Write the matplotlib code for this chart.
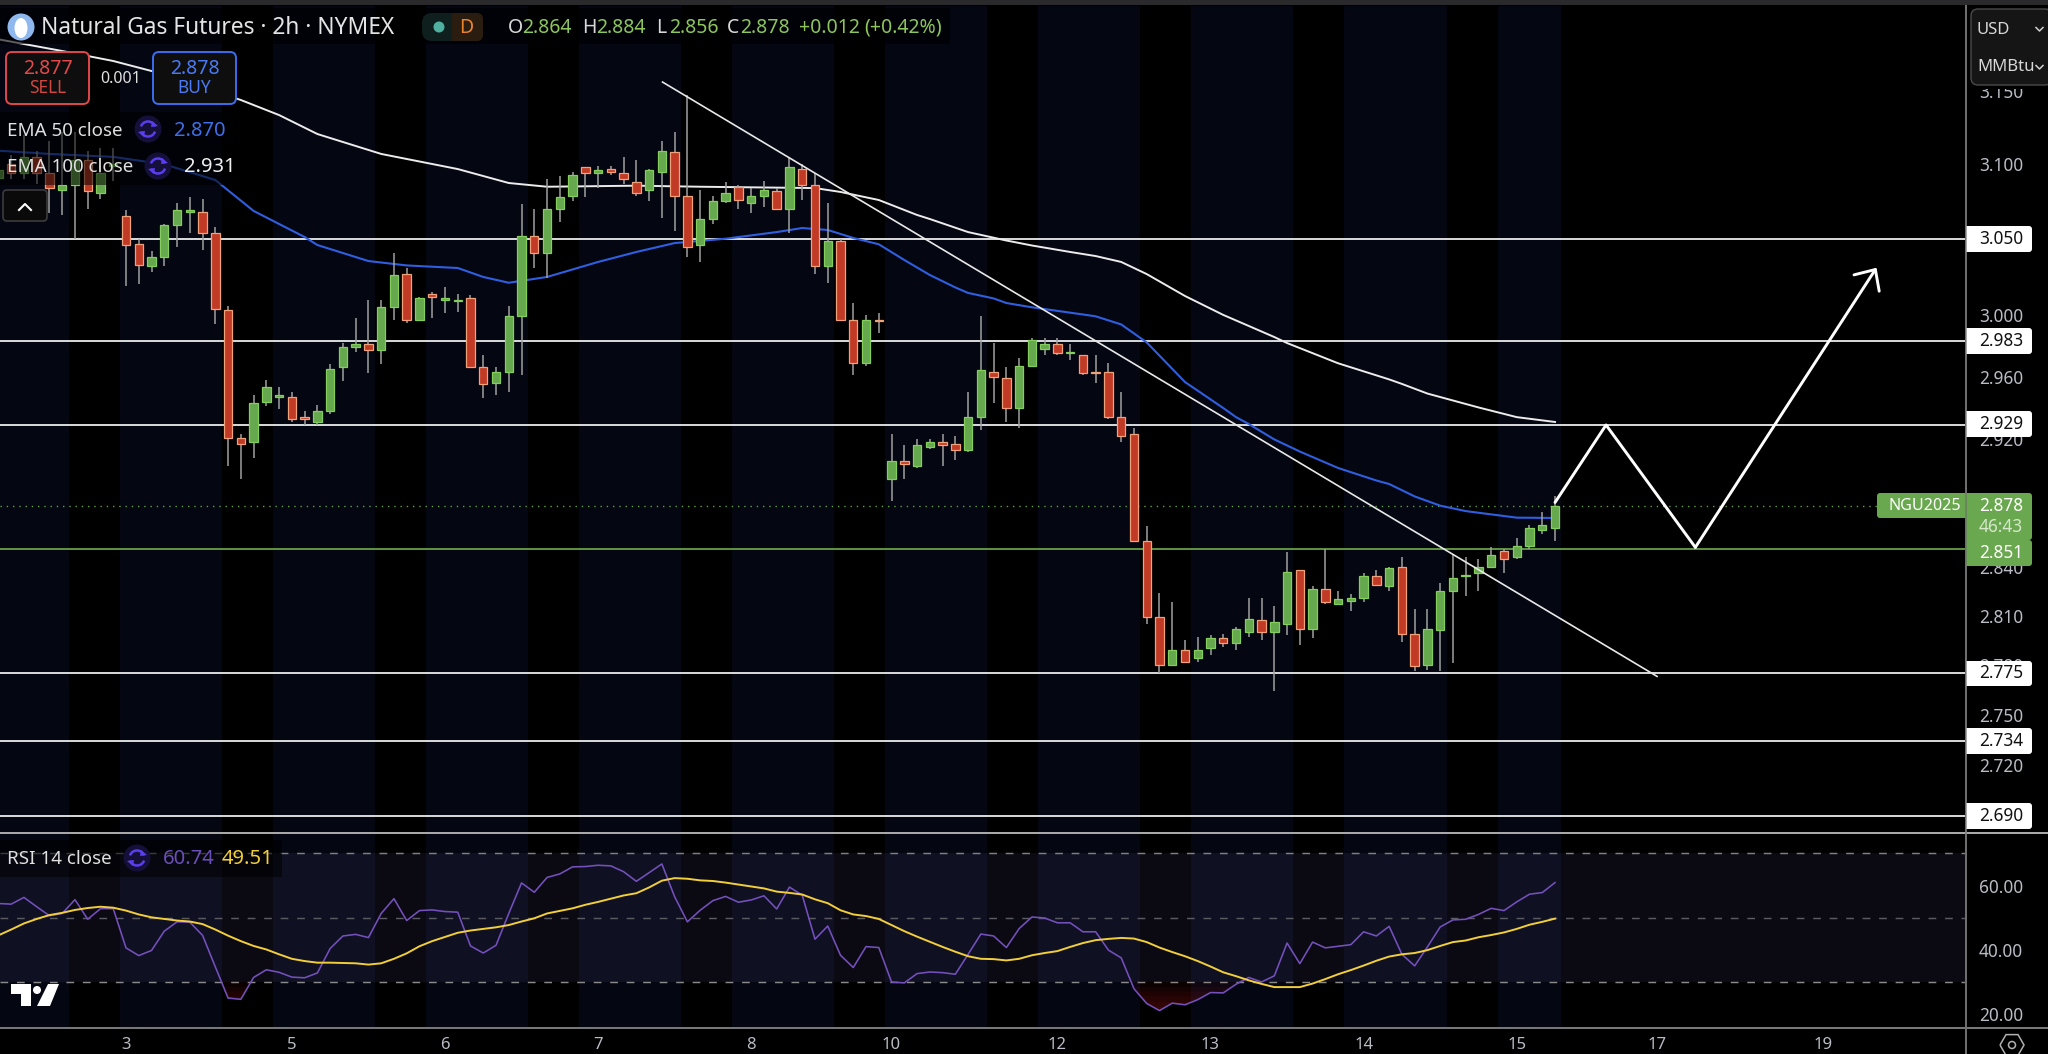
import numpy as np
import matplotlib
matplotlib.use("Agg")
import matplotlib.pyplot as plt
from matplotlib.patches import FancyBboxPatch, Circle, Rectangle, Arc, Polygon, RegularPolygon, Ellipse
from matplotlib.ticker import NullLocator, NullFormatter

plt.rcParams['font.family'] = ['Noto Sans', 'DejaVu Sans']

# ---------------- data (2h bars, bar -10 .. 112) ----------------
first_bar = -10
open_ = [3.091,3.100,3.094,3.105,3.094,3.083,3.086,3.103,3.081,3.099,
 3.065,3.047,3.032,3.038,3.059,3.068,3.068,3.054,3.003,2.921,
 2.918,2.944,2.947,2.947,2.934,2.931,2.938,2.966,2.979,2.981,
 2.977,3.005,3.027,2.997,3.014,3.010,3.009,3.011,2.966,2.956,
 2.963,2.999,3.052,3.041,3.070,3.079,3.098,3.094,3.097,3.094,
 3.088,3.083,3.095,3.108,3.079,3.046,3.063,3.075,3.085,3.074,
 3.079,3.082,3.070,3.097,3.086,3.032,3.049,2.997,2.969,2.997,
 2.895,2.906,2.903,2.915,2.918,2.917,2.913,2.934,2.963,2.959,
 2.940,2.967,2.978,2.981,2.975,2.974,2.963,2.963,2.934,2.923,
 2.856,2.809,2.780,2.789,2.784,2.790,2.796,2.793,2.800,2.807,
 2.800,2.805,2.838,2.802,2.826,2.817,2.819,2.821,2.834,2.828,
 2.840,2.799,2.780,2.801,2.825,2.834,2.836,2.840,2.850,2.846,
 2.853,2.863,2.864]
high = [3.099,3.106,3.120,3.109,3.116,3.122,3.122,3.109,3.111,3.111,
 3.069,3.050,3.042,3.060,3.074,3.078,3.077,3.058,3.006,2.923,
 2.948,2.958,2.953,2.950,2.938,2.942,2.968,2.982,2.998,3.010,
 3.010,3.041,3.031,3.012,3.015,3.018,3.014,3.013,2.974,2.966,
 3.006,3.073,3.070,3.090,3.092,3.095,3.098,3.099,3.099,3.105,
 3.103,3.097,3.116,3.122,3.147,3.083,3.079,3.088,3.086,3.084,
 3.089,3.084,3.105,3.100,3.094,3.074,3.050,3.008,3.000,3.001,
 2.923,2.916,2.920,2.920,2.923,2.922,2.950,2.999,2.982,2.966,
 2.972,2.985,2.985,2.985,2.981,2.974,2.974,2.969,2.950,2.927,
 2.865,2.824,2.818,2.795,2.797,2.798,2.799,2.803,2.821,2.821,
 2.816,2.849,2.838,2.828,2.851,2.825,2.823,2.836,2.838,2.840,
 2.846,2.814,2.814,2.830,2.848,2.846,2.845,2.852,2.851,2.858,
 2.866,2.874,2.884]
low = [3.086,3.090,3.090,3.087,3.067,3.066,3.050,3.070,3.077,3.089,
 3.019,3.020,3.028,3.032,3.045,3.054,3.043,2.994,2.903,2.895,
 2.908,2.941,2.939,2.931,2.929,2.929,2.936,2.957,2.976,2.962,
 2.968,2.997,2.995,2.997,2.998,3.001,3.002,2.966,2.946,2.948,
 2.950,2.961,3.031,3.024,3.061,3.075,3.078,3.084,3.093,3.087,
 3.079,3.075,3.064,3.055,3.038,3.035,3.060,3.074,3.070,3.067,
 3.071,3.070,3.054,3.076,3.027,3.021,2.996,2.961,2.967,2.988,
 2.881,2.895,2.902,2.914,2.903,2.907,2.912,2.926,2.943,2.931,
 2.927,2.966,2.974,2.974,2.971,2.961,2.956,2.933,2.918,2.856,
 2.805,2.775,2.780,2.781,2.782,2.786,2.791,2.789,2.797,2.795,
 2.764,2.798,2.792,2.796,2.817,2.817,2.813,2.818,2.829,2.825,
 2.794,2.776,2.777,2.776,2.781,2.822,2.825,2.839,2.836,2.845,
 2.851,2.860,2.856]
close = [3.096,3.094,3.105,3.094,3.084,3.086,3.103,3.082,3.094,3.100,
 3.046,3.033,3.038,3.059,3.069,3.069,3.054,3.004,2.921,2.917,
 2.943,2.953,2.948,2.933,2.933,2.938,2.965,2.979,2.981,2.977,
 3.005,3.026,2.997,3.011,3.012,3.011,3.010,2.966,2.955,2.963,
 2.999,3.052,3.041,3.070,3.078,3.093,3.094,3.096,3.095,3.090,
 3.081,3.096,3.109,3.079,3.045,3.063,3.075,3.081,3.076,3.079,
 3.083,3.070,3.098,3.086,3.032,3.049,2.997,2.969,2.997,2.996,
 2.906,2.904,2.916,2.918,2.916,2.913,2.934,2.964,2.960,2.940,
 2.967,2.984,2.981,2.975,2.976,2.962,2.962,2.934,2.922,2.856,
 2.809,2.780,2.789,2.782,2.789,2.796,2.793,2.802,2.808,2.800,
 2.806,2.837,2.802,2.826,2.818,2.820,2.821,2.834,2.829,2.839,
 2.799,2.779,2.802,2.825,2.833,2.835,2.840,2.847,2.845,2.853,
 2.864,2.866,2.878]

ema50_bars = [-10,-6,-1,3,7,10,14,15,19,22,26,28,30,33,37,40,43,47,51,53,55,57,59,61,63,65,66,68,69,71,75,76,78,80,83,86,87,88,90,92,95,98,99,101,103,105,109,112]
ema50_vals = [3.1092,3.107,3.105,3.100,3.0894,3.0687,3.0513,3.046,3.0354,3.0325,3.0308,3.0249,3.0211,3.0249,3.0348,3.0414,3.0473,3.0502,3.0546,3.0573,3.056,3.0507,3.0465,3.0361,3.0262,3.018,3.0144,3.0108,3.0078,3.005,3.0003,2.9991,2.9938,2.9821,2.9565,2.9398,2.934,2.9296,2.9198,2.9121,2.9017,2.8938,2.8916,2.8838,2.878,2.8746,2.8705,2.8703]
ema100_bars = [-10,-5,-1,2,9,12,15,20,26,30,33,40,45,54,56,59,62,63,66,69,71,74,76,78,80,83,86,88,90,91,95,99,100,102,106,109,112]
ema100_vals = [3.1855,3.1774,3.1705,3.1636,3.1437,3.1334,3.1205,3.107,3.0968,3.0874,3.0849,3.0856,3.0849,3.084,3.0814,3.076,3.066,3.0633,3.0546,3.049,3.0457,3.0414,3.0387,3.0348,3.0268,3.0124,3.0,2.9928,2.9856,2.9817,2.9686,2.9582,2.9553,2.9491,2.9402,2.934,2.9309]

rsi = [54.4,54.2,56.3,53.4,50.6,51.3,55.6,49.5,52.8,52.8,
 40.6,38.2,39.8,45.8,48.7,48.6,44.5,34.7,25.0,24.6,
 31.4,33.8,33.0,31.5,31.3,32.8,40.4,44.3,44.8,43.8,
 51.3,55.9,49.1,52.2,52.4,51.9,51.7,41.2,39.0,41.4,
 51.3,60.8,57.9,62.5,63.6,65.8,65.9,66.3,66.1,64.3,
 61.3,64.0,66.7,56.5,48.7,52.3,55.3,56.6,54.8,55.5,
 56.8,52.7,59.5,57.0,43.3,47.4,38.3,34.5,41.0,40.7,
 30.0,29.7,32.6,33.1,32.9,32.4,38.6,44.9,44.3,40.7,
 46.6,50.2,49.9,48.4,48.4,45.6,45.6,39.9,37.5,27.9,
 23.3,21.1,23.4,22.9,24.5,26.7,26.6,29.3,31.4,30.0,
 31.9,42.1,35.7,42.4,40.6,41.1,41.6,45.6,44.3,47.3,
 38.6,35.0,40.9,47.1,49.3,49.5,51.0,52.9,52.2,54.9,
 57.3,57.8,60.9]
rsi_ma = [44.5,46.3,48.2,49.6,50.8,51.5,52.4,53.0,53.4,53.1,
 52.2,51.0,50.1,49.6,49.1,48.8,48.0,46.3,44.4,42.7,
 41.2,40.1,38.6,37.2,36.5,36.0,36.0,35.9,35.8,35.4,
 35.8,37.2,38.9,41.1,42.7,44.0,45.3,46.0,46.5,47.0,
 47.7,48.8,49.8,51.3,52.1,52.9,54.0,54.9,55.9,56.9,
 57.6,59.4,61.5,62.3,62.1,61.6,61.4,60.9,60.3,59.7,
 59.1,58.1,57.7,57.2,55.7,54.5,52.3,51.0,50.5,49.6,
 47.7,45.8,44.1,42.5,40.9,39.4,38.0,37.2,37.1,36.7,
 37.2,38.3,39.0,39.6,40.9,42.1,43.0,43.4,43.7,43.5,
 42.4,40.7,39.3,38.0,36.5,34.8,33.0,31.8,30.5,29.4,
 28.4,28.4,28.4,29.5,30.9,32.4,33.7,35.1,36.6,37.9,
 38.6,39.0,39.9,41.2,42.4,42.9,43.9,44.6,45.4,46.5,
 47.8,48.7,49.7]

levels_white = [3.050, 2.983, 2.929, 2.775, 2.734, 2.690]
level_green = 2.851
last_price = 2.878
trend_bars = [42.05, 120.0]
trend_vals = [3.156, 2.773]
path_bars = [112.0, 116.0, 123.0]
path_vals = [2.880, 2.929, 2.852]
arrow_tip = (137.2, 3.031)

price_ticks = [3.150, 3.100, 3.000, 2.960, 2.920, 2.840, 2.810, 2.780, 2.750, 2.720]
rsi_ticks = [60, 40, 20]
date_bars = [0, 13, 25, 37, 49, 60, 73, 85, 97, 109, 120, 133]
date_labels = ['3', '5', '6', '7', '8', '10', '12', '13', '14', '15', '17', '19']

# ---------------- colours ----------------
NAVY = '#040612'
UP, UP_E = '#66a84e', '#84cf5c'
DN, DN_E = '#c13a25', '#f0a27a'
WICK = '#a0a0a0'
TXT = '#b9bcc4'
GREEN_TAG = '#6aa84f'

W, H = 2048, 1054
fig = plt.figure(figsize=(W / 100, H / 100), dpi=100, facecolor='black')
X0, X1 = 0, 1965
ax = fig.add_axes([X0 / W, (H - 832) / H, (X1 - X0) / W, (832 - 6) / H])
ax2 = fig.add_axes([X0 / W, (H - 1028) / H, (X1 - X0) / W, (1028 - 833) / H])

bar_px = 12.759
xlim = (-126 / bar_px, (X1 - 126) / bar_px)
bars = np.arange(first_bar, first_bar + len(close))

for a in (ax, ax2):
    a.set_facecolor(NAVY)
    a.set_xlim(*xlim)
    for k in range(0, 10):
        a.axvspan(-4.5 + 12 * k, -0.5 + 12 * k, color='black', lw=0, zorder=0)
    a.axvspan(112.5, xlim[1], color='black', lw=0, zorder=0)
    for s in a.spines.values():
        s.set_visible(False)

# ---------------- price pane ----------------
ax.set_yscale('log')
ax.set_ylim(3.05 * np.exp(-593 / 4594), 3.05 * np.exp(233 / 4594))
ax.yaxis.tick_right()
ax.yaxis.set_minor_locator(NullLocator())
ax.yaxis.set_minor_formatter(NullFormatter())
ax.set_yticks(price_ticks, [f'{t:.3f}' for t in price_ticks])
ax.tick_params(axis='y', length=0, pad=10, labelsize=12.4, labelcolor=TXT)
ax.set_xticks([])

for lv in levels_white:
    ax.axhline(lv, color='white', lw=1.2, zorder=2)
ax.axhline(level_green, color='#6fae4f', lw=1.2, zorder=2)
ax.axhline(last_price, color='#5fa043', lw=1.0, ls=(0, (1, 3.5)), zorder=2)

ax.plot(ema100_bars, ema100_vals, color='#ececec', lw=1.4, zorder=2)
ax.plot(ema50_bars, ema50_vals, color='#2f5fe0', lw=1.5, zorder=2)
ax.plot(trend_bars, trend_vals, color='#e8e8e8', lw=1.2, zorder=4)

o, h, l, c = map(np.array, (open_, high, low, close))
up = c >= o
ax.vlines(bars, l, h, color=WICK, lw=1.1, zorder=3)
ax.bar(bars[up], c[up] - o[up], bottom=o[up], width=0.66, color=UP, edgecolor=UP_E, lw=0.9, zorder=3.2)
ax.bar(bars[~up], o[~up] - c[~up], bottom=c[~up], width=0.66, color=DN, edgecolor=DN_E, lw=0.9, zorder=3.2)

ax.plot(path_bars, path_vals, color='white', lw=2.1, zorder=5, solid_capstyle='round')
ax.annotate('', xy=arrow_tip, xytext=(path_bars[-1], path_vals[-1]),
            arrowprops=dict(arrowstyle='->,head_length=1.16,head_width=1.08', mutation_scale=10, color='white',
                            lw=2.1, shrinkA=0, shrinkB=0, capstyle='round'), zorder=5)

# ---------------- RSI pane ----------------
ax2.set_ylim(15.68, 76.33)
ax2.yaxis.tick_right()
ax2.axhspan(30, 70, color=(130 / 255, 120 / 255, 200 / 255), alpha=0.09, lw=0, zorder=1)
for v, col in ((70, '#808080'), (50, '#5a5a62'), (30, '#8a8a8a')):
    ax2.axhline(v, color=col, lw=1.05, ls=(0, (5.3, 6)), zorder=2)
r = np.array(rsi)
for t_ in (30, 28.5, 27, 25.5, 24, 22.5):
    ax2.fill_between(bars, r, t_, where=r < t_, interpolate=True, color='#c02020', alpha=0.06, lw=0, zorder=2)
ax2.plot(bars, rsi, color='#7450bd', lw=1.15, zorder=3)
ax2.plot(bars, rsi_ma, color='#f2cf3a', lw=1.4, zorder=4)
ax2.set_yticks(rsi_ticks, [f'{v:.2f}' for v in rsi_ticks])
ax2.set_xticks(date_bars, date_labels)
ax2.tick_params(axis='y', length=0, pad=10, labelsize=12.4, labelcolor=TXT)
ax2.tick_params(axis='x', length=0, pad=6.5, labelsize=12, labelcolor=TXT)

# ---------------- interface overlay in pixels ----------------
ov = fig.add_axes([0, 0, 1, 1], zorder=10)
ov.set_xlim(0, W)
ov.set_ylim(H, 0)
ov.axis('off')
ov.patch.set_visible(False)


def txt(x, y, s, color='#d8d8d8', size=14, ha='left', va='center', **kw):
    ov.text(x, y, s, color=color, fontsize=size, ha=ha, va=va, **kw)


def rbox(x0, y0, x1, y1, fc, ec='none', lw=1.0, r=4, **kw):
    ov.add_patch(FancyBboxPatch((x0 + r, y0 + r), x1 - x0 - 2 * r, y1 - y0 - 2 * r,
                                boxstyle=f'round,pad={r},rounding_size={r}', fc=fc, ec=ec, lw=lw, **kw))


def sync_icon(x, y):
    ov.add_patch(Circle((x, y), 13.5, fc='#15103a', ec='none'))
    ov.add_patch(Arc((x, y), 15, 15, theta1=200, theta2=340, color='#5b3df0', lw=1.8))
    ov.add_patch(Arc((x, y), 15, 15, theta1=20, theta2=160, color='#5b3df0', lw=1.8))
    ov.add_patch(Polygon([[x + 4, y - 8], [x + 10, y - 3], [x + 3, y - 2]], fc='#5b3df0', ec='none'))
    ov.add_patch(Polygon([[x - 4, y + 8], [x - 10, y + 3], [x - 3, y + 2]], fc='#5b3df0', ec='none'))


# frame lines
ov.add_patch(Rectangle((0, 0), W, 5, fc='#2a2a2c', ec='none'))
ov.add_patch(Rectangle((1965, 5), 2, H - 5, fc='#6e6e6e', ec='none'))
ov.add_patch(Rectangle((0, 832), W, 2, fc='#a8a8a8', ec='none'))
ov.add_patch(Rectangle((0, 1027), W, 2, fc='#777777', ec='none'))

# legend dimming
ov.add_patch(Rectangle((0, 8), 950, 36, fc='black', alpha=0.6, ec='none'))
ov.add_patch(Rectangle((0, 112), 240, 73, fc='black', alpha=0.55, ec='none'))
ov.add_patch(Rectangle((0, 840), 282, 37, fc='black', alpha=0.55, ec='none'))

# title row
ov.add_patch(Circle((21, 27), 13.5, fc='#8fb8ee', ec='none'))
ov.add_patch(Ellipse((21, 28), 13, 20, fc='white', ec='none'))
txt(41, 28.5, 'Natural Gas Futures · 2h · NYMEX', color='#e4e4e4', size=16.4)
rbox(422, 13, 483, 41, '#0f1f1d', r=10)
ov.add_patch(Rectangle((452, 13), 22, 28, fc='#2a1c0e', ec='none'))
ov.add_patch(FancyBboxPatch((462, 19), 15, 16, boxstyle='round,pad=6,rounding_size=6', fc='#2a1c0e', ec='none'))
ov.add_patch(Circle((439, 27), 5.5, fc='#4fb0a0', ec='none'))
txt(466, 28, 'D', color='#e8842c', size=14, ha='center')
VAL = '#8cc65c'
for xp, lab in ((508, 'O'), (582, 'H'), (656, 'L'), (727, 'C')):
    txt(xp, 28, lab, color='#d8d8d8', size=14)
for xp, s in ((522, '2.864'), (596, '2.884'), (669, '2.856'), (740, '2.878'), (799, '+0.012'), (864, '(+0.42%)')):
    txt(xp, 28, s, color=VAL, size=14)

# sell / buy
rbox(6, 52, 89, 104, '#0e0e0e', ec='#e0484a', lw=1.4, r=6)
txt(47.5, 69.5, '2.877', color='#e5484a', size=14, ha='center')
txt(47.5, 88, 'SELL', color='#d24640', size=12.5, ha='center')
rbox(153, 52, 236, 104, '#0e0e0e', ec='#3b6ef0', lw=1.4, r=6)
txt(194.5, 69.5, '2.878', color='#4a7af5', size=14, ha='center')
txt(194.5, 88, 'BUY', color='#4a7af5', size=12.5, ha='center')
txt(120.5, 79, '0.001', color='#e0e0e0', size=11.5, ha='center')

# indicators
txt(7, 130.5, 'EMA 50 close', color='#e0e0e0', size=13.5)
sync_icon(148, 129)
txt(174, 130.5, '2.870', color='#3e6fe8', size=14.5)
txt(7, 167.5, 'EMA 100 close', color='#e0e0e0', size=13.5)
sync_icon(158, 166)
txt(184, 167.5, '2.931', color='#f0f0f0', size=14.5)

rbox(3, 190, 47, 221, '#0a0a0a', ec='#3c3c3c', lw=1.2, r=4)
ov.plot([19, 25, 31], [210, 204, 210], color='white', lw=1.5)

# RSI legend
txt(7, 859.5, 'RSI 14 close', color='#e0e0e0', size=13.5)
sync_icon(137, 858)
txt(163, 859.5, '60.74', color='#6a4fb8', size=14.5)
txt(222, 859.5, '49.51', color='#f2cf3a', size=14.5)

# logo
ov.add_patch(Polygon([[11, 984], [31, 984], [31, 1006], [21, 1006], [21, 994], [11, 994]], fc='white', ec='none'))
ov.add_patch(Circle((37, 990), 4, fc='white', ec='none'))
ov.add_patch(Polygon([[48, 984], [59, 984], [50, 1006], [37, 1006]], fc='white', ec='none'))

# unit box
ov.add_patch(Rectangle((1967, 5), W - 1967, 84, fc='black', ec='none'))
rbox(1971, 9, 2052, 85, '#151515', ec='#4a4a4a', lw=1.0, r=7)
txt(1977, 30, 'USD', color='#d8d8d8', size=12)
txt(1977, 67, 'MMBtu', color='#d8d8d8', size=12)
for yy in (29, 67):
    ov.plot([2036, 2039.5, 2043], [yy - 1.5, yy + 2, yy - 1.5], color='#d0d0d0', lw=1.1)

# price tags
for lab, y0, y1 in (('3.050', 226, 252), ('2.983', 328, 354), ('2.929', 411, 437),
                    ('2.775', 661, 686), ('2.734', 728, 754), ('2.690', 803, 829)):
    ov.add_patch(Rectangle((1966, y0), 30, y1 - y0, fc='white', ec='none'))
    rbox(1970, y0, 2032, y1, 'white', r=3)
    txt(1979, (y0 + y1) / 2, lab, color='#111111', size=12.4)

rbox(1877, 493, 1970, 518, GREEN_TAG, r=3)
txt(1888, 505.5, 'NGU2025', color='white', size=11.6)
ov.add_patch(Rectangle((1966, 493), 30, 47, fc=GREEN_TAG, ec='none'))
rbox(1970, 493, 2032, 540, GREEN_TAG, r=3)
txt(1979, 506, '2.878', color='white', size=12.4)
txt(1979, 527, '46:43', color='#d5e8cb', size=12.4)
ov.add_patch(Rectangle((1966, 540), 30, 26, fc=GREEN_TAG, ec='none'))
rbox(1970, 540, 2032, 566, GREEN_TAG, r=3)
txt(1979, 553, '2.851', color='white', size=12.4)
ov.add_patch(Rectangle((1965, 5), 2, H - 5, fc='#6e6e6e', alpha=0.6, ec='none'))

# settings glyph
ov.add_patch(RegularPolygon((2012, 1045), 6, radius=12, orientation=np.pi / 2, fc='none', ec='#b0b0b0', lw=1.1))
ov.add_patch(Circle((2012, 1045), 3.5, fc='none', ec='#b0b0b0', lw=1.1))

fig.savefig('out.png', dpi=100, facecolor='black')
